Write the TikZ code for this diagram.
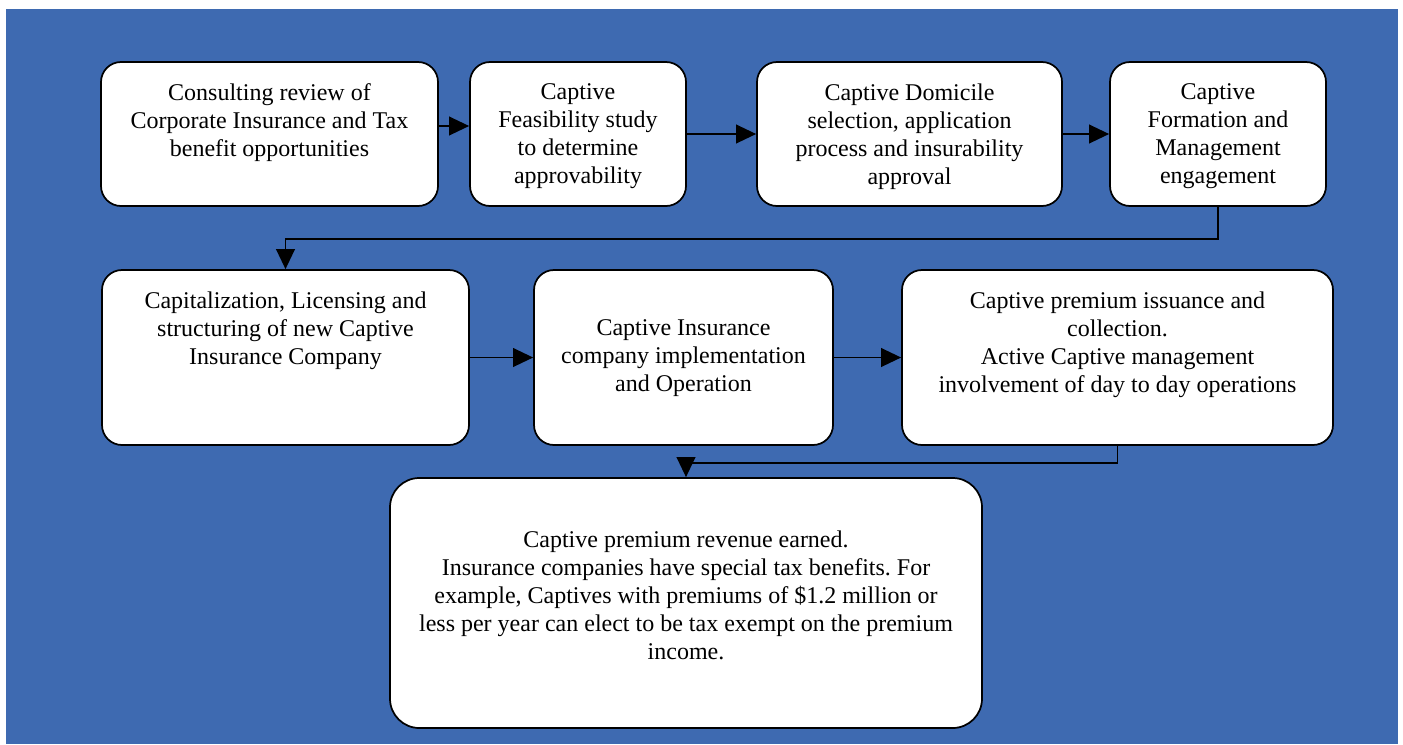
\documentclass[tikz,border=0pt]{standalone}
\usepackage{fontspec}
\setmainfont{Liberation Serif}
\usetikzlibrary{arrows.meta,positioning}
\definecolor{bgblue}{RGB}{62,106,177}
\frenchspacing
\tikzset{
  stepbox/.style={draw=black,line width=1.3pt,fill=white,rounded corners=15pt,inner sep=0pt},
  steptext/.style={align=center,inner sep=0pt,font=\fontsize{18}{21}\selectfont},
  arr/.style={-{Triangle[length=15pt,width=14pt]},line width=1.3pt},
}
\begin{document}
\begin{tikzpicture}[x=0.75pt,y=-0.75pt,node distance=0pt]
  \useasboundingbox (0,0) rectangle (1403,744);
  \fill[bgblue] (6,9) rectangle (1398,744); % backdrop
  % first row
  \node[stepbox,minimum width=337*0.75pt,minimum height=144*0.75pt] (b1) at (269.5,134) {};
  \node[stepbox,minimum width=216*0.75pt,minimum height=144*0.75pt] (b2) at (578,134) {};
  \node[stepbox,minimum width=305*0.75pt,minimum height=144*0.75pt] (b3) at (909.5,134) {};
  \node[stepbox,minimum width=216*0.75pt,minimum height=144*0.75pt] (b4) at (1218,134) {};
  % second row
  \node[stepbox,minimum width=367*0.75pt,minimum height=175*0.75pt] (b5) at (285.5,357.5) {};
  \node[stepbox,minimum width=299*0.75pt,minimum height=175*0.75pt] (b6) at (683.5,357.5) {};
  \node[stepbox,minimum width=431*0.75pt,minimum height=175*0.75pt] (b7) at (1117.5,357.5) {};
  % last step
  \node[stepbox,rounded corners=22pt,minimum width=592*0.75pt,minimum height=250*0.75pt] (b8) at (686,603) {};
  % texts
  \node[steptext,below=17pt of b1.north] (t1) {Consulting review of\\Corporate Insurance and Tax\\benefit opportunities};
  \node[steptext,below=17pt of b2.north] (t2) {Captive\\Feasibility study\\to determine\\approvability};
  \node[steptext,below=17pt of b3.north] (t3) {Captive Domicile\\selection, application\\process and insurability\\approval};
  \node[steptext,below=17pt of b4.north] (t4) {Captive\\Formation and\\Management\\engagement};
  \node[steptext,below=17pt of b5.north] (t5) {Capitalization, Licensing and\\structuring of new Captive\\Insurance Company};
  \node[steptext,below=38pt of b6.north] (t6) {Captive Insurance\\company implementation\\and Operation};
  \node[steptext,below=17pt of b7.north] (t7) {Captive premium issuance and\\collection.\\Active Captive management\\involvement of day to day operations};
  \node[steptext,below=40pt of b8.north] (t8) {Captive premium revenue earned.\\Insurance companies have special tax benefits. For\\example, Captives with premiums of \$1.2 million or\\less per year can elect to be tax exempt on the premium\\income.};
  % connectors
  \draw[arr] ([yshift=6pt]b1.east) -- ([yshift=6pt]b2.west);
  \draw[arr] (b2) -- (b3);
  \draw[arr] (b3) -- (b4);
  \draw[arr] (b4.south) -- ++(0,32) -| (b5.north);
  \draw[arr] (b5) -- (b6);
  \draw[arr] (b6) -- (b7);
  \draw[arr] (b7.south) -- ++(0,17) -| (b8.north);
\end{tikzpicture}
\end{document}
